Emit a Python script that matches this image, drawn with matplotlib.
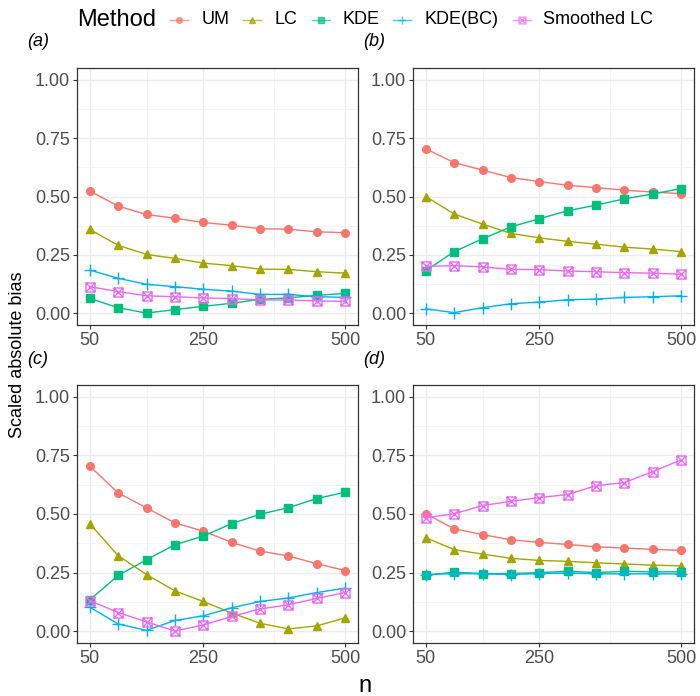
"""
Scaled absolute bias vs n, four simulation settings, ggplot-like facets.
"""

import matplotlib
matplotlib.use("Agg")
import matplotlib.pyplot as plt
from matplotlib.path import Path
from matplotlib.lines import Line2D
from matplotlib.ticker import FixedLocator

plt.rcParams["font.family"] = ["Liberation Sans", "DejaVu Sans"]

n_values = [50, 100, 150, 200, 250, 300, 350, 400, 450, 500]
methods = ["UM", "LC", "KDE", "KDE(BC)", "Smoothed LC"]

# panel (a)
a_um = [0.523, 0.459, 0.423, 0.407, 0.389, 0.377, 0.362, 0.360, 0.349, 0.345]
a_lc = [0.359, 0.291, 0.252, 0.235, 0.215, 0.204, 0.189, 0.188, 0.178, 0.172]
a_kde = [0.064, 0.024, 0.001, 0.016, 0.030, 0.043, 0.060, 0.066, 0.077, 0.085]
a_kdebc = [0.185, 0.150, 0.124, 0.114, 0.103, 0.095, 0.081, 0.081, 0.071, 0.068]
a_slc = [0.114, 0.093, 0.075, 0.071, 0.066, 0.063, 0.057, 0.057, 0.053, 0.051]

# panel (b)
b_um = [0.704, 0.645, 0.613, 0.581, 0.564, 0.548, 0.538, 0.527, 0.519, 0.512]
b_lc = [0.500, 0.425, 0.382, 0.342, 0.323, 0.308, 0.296, 0.283, 0.275, 0.264]
b_kde = [0.182, 0.264, 0.319, 0.370, 0.405, 0.439, 0.463, 0.490, 0.511, 0.534]
b_kdebc = [0.019, 0.003, 0.024, 0.041, 0.048, 0.058, 0.061, 0.068, 0.071, 0.075]
b_slc = [0.201, 0.204, 0.199, 0.188, 0.187, 0.181, 0.178, 0.174, 0.172, 0.167]

# panel (c)
c_um = [0.704, 0.590, 0.526, 0.462, 0.427, 0.379, 0.342, 0.321, 0.288, 0.259]
c_lc = [0.459, 0.322, 0.242, 0.172, 0.127, 0.078, 0.034, 0.010, 0.023, 0.057]
c_kde = [0.134, 0.238, 0.305, 0.369, 0.406, 0.459, 0.499, 0.527, 0.566, 0.593]
c_kdebc = [0.103, 0.031, 0.004, 0.046, 0.066, 0.100, 0.127, 0.142, 0.165, 0.184]
c_slc = [0.131, 0.080, 0.040, 0.001, 0.027, 0.063, 0.095, 0.113, 0.140, 0.165]

# panel (d)
d_um = [0.501, 0.437, 0.412, 0.390, 0.379, 0.370, 0.360, 0.355, 0.349, 0.345]
d_lc = [0.399, 0.348, 0.329, 0.311, 0.302, 0.298, 0.292, 0.287, 0.282, 0.279]
d_kde = [0.239, 0.252, 0.246, 0.246, 0.250, 0.256, 0.250, 0.256, 0.253, 0.254]
d_kdebc = [0.241, 0.246, 0.245, 0.242, 0.246, 0.248, 0.245, 0.245, 0.245, 0.245]
d_slc = [0.484, 0.501, 0.536, 0.554, 0.570, 0.583, 0.621, 0.634, 0.681, 0.731]

panel_labels = ["(a)", "(b)", "(c)", "(d)"]
panels = [
    [a_um, a_lc, a_kde, a_kdebc, a_slc],
    [b_um, b_lc, b_kde, b_kdebc, b_slc],
    [c_um, c_lc, c_kde, c_kdebc, c_slc],
    [d_um, d_lc, d_kde, d_kdebc, d_slc],
]

colors = ["#F8766D", "#A3A500", "#00BF7D", "#00B0F6", "#E76BF3"]

# square with a cross inside (ggplot shape 7)
box_x = Path(
    [(-1, -1), (1, -1), (1, 1), (-1, 1), (-1, -1), (-1, -1), (1, 1), (-1, 1), (1, -1)],
    [Path.MOVETO, Path.LINETO, Path.LINETO, Path.LINETO, Path.CLOSEPOLY,
     Path.MOVETO, Path.LINETO, Path.MOVETO, Path.LINETO],
)

styles = [
    dict(marker="o", markersize=5.5),
    dict(marker="^", markersize=6),
    dict(marker="s", markersize=5.5),
    dict(marker="+", markersize=8, markeredgewidth=1.0),
    dict(marker=box_x, markersize=6.5, markerfacecolor="none", markeredgewidth=1.0),
]

fig = plt.figure(figsize=(7.0, 6.96), dpi=100)

W, H = 700, 696
boxes = [
    (77, 68, 358, 325),
    (413, 68, 694, 325),
    (77, 385, 358, 643),
    (413, 385, 694, 643),
]

tick_col = "#4D4D4D"
for k, (x0, y0, x1, y1) in enumerate(boxes):
    ax = fig.add_axes([x0 / W, 1 - y1 / H, (x1 - x0) / W, (y1 - y0) / H])
    for series, col, st in zip(panels[k], colors, styles):
        ax.plot(n_values, series, color=col, lw=1.0, zorder=3, **st)
    ax.set_xlim(27.5, 522.5)
    ax.set_ylim(-0.05, 1.05)
    ax.set_xticks([50, 250, 500])
    ax.set_yticks([0, 0.25, 0.5, 0.75, 1.0])
    ax.set_yticklabels(["0.00", "0.25", "0.50", "0.75", "1.00"])
    ax.xaxis.set_minor_locator(FixedLocator([150, 375]))
    ax.yaxis.set_minor_locator(FixedLocator([0.125, 0.375, 0.625, 0.875]))
    ax.grid(True, which="major", color="#EBEBEB", lw=1.0, zorder=0)
    ax.grid(True, which="minor", color="#F2F2F2", lw=0.6, zorder=0)
    ax.set_axisbelow(True)
    ax.tick_params(which="major", length=3, width=0.8, color="#333333",
                   labelsize=13, labelcolor=tick_col, pad=2)
    ax.tick_params(which="minor", length=0)
    for sp in ax.spines.values():
        sp.set_color("#333333")
        sp.set_linewidth(0.9)
    fig.text((x0 - 50) / W, 1 - (y0 - 26) / H, panel_labels[k], fontsize=13,
             style="italic", ha="left", va="center")

fig.text(18 / W, 1 - 355 / H, "Scaled absolute bias", rotation=90,
         fontsize=13, ha="center", va="center")
fig.text(365 / W, 1 - 686 / H, "n", fontsize=17, ha="center", va="center")

# legend across the top, placed item by item like ggplot's horizontal guide
leg_y = 1 - 20 / H
fig.text(77 / W, leg_y, "Method", fontsize=17, ha="left", va="center")
key_left = [170, 243, 312, 393, 513]
text_left = [202, 275, 342, 425, 543]
key_styles = [dict(st) for st in styles]
for st in key_styles:
    st["markersize"] = st["markersize"] * 0.75
for xl, xt, lab, col, st in zip(key_left, text_left, methods, colors, key_styles):
    fig.add_artist(Line2D([xl / W, (xl + 18) / W], [leg_y, leg_y], color=col, lw=1.0,
                          alpha=0.7, transform=fig.transFigure))
    fig.add_artist(Line2D([(xl + 9) / W], [leg_y], color=col, lw=0, alpha=0.7,
                          transform=fig.transFigure, **st))
    fig.text(xt / W, leg_y, lab, fontsize=13, ha="left", va="center")

fig.savefig("out.png", dpi=100)
